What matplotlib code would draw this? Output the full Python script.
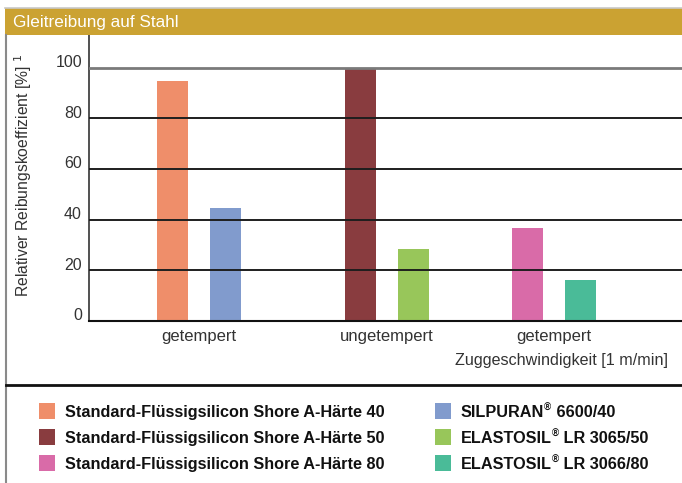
import matplotlib
matplotlib.use("Agg")
import matplotlib.pyplot as plt
from matplotlib.patches import Rectangle
from matplotlib.lines import Line2D

plt.rcParams["font.family"] = ["Liberation Sans", "DejaVu Sans"]

# data
groups = ["getempert", "ungetempert", "getempert"]
series = [
    "Standard-Flüssigsilicon Shore A-Härte 40",
    "SILPURAN® 6600/40",
    "Standard-Flüssigsilicon Shore A-Härte 50",
    "ELASTOSIL® LR 3065/50",
    "Standard-Flüssigsilicon Shore A-Härte 80",
    "ELASTOSIL® LR 3066/80",
]
values = [94.8, 44.7, 100.0, 28.4, 36.8, 16.2]
colors = ["#EF8E6A", "#819BCD", "#893C3F", "#98C65A", "#D96BA8", "#4ABB98"]
bar_group = [0, 0, 1, 1, 2, 2]
yticks = [0, 20, 40, 60, 80, 100]

W, H = 682, 483
fig = plt.figure(figsize=(W / 100, H / 100), dpi=100)
renderer = fig.canvas.get_renderer()


def fx(px):
    return px / W


def fy(py):
    return 1 - py / H


# frame: header, left border, separator
fig.patches.append(Rectangle((fx(5), fy(35)), 1 - fx(5), 27 / H, transform=fig.transFigure,
                             facecolor="#CBA232", edgecolor="none"))
fig.lines.append(Line2D([fx(5), 1], [fy(8), fy(8)], transform=fig.transFigure,
                        color="#c8c8c8", lw=1.2))
fig.lines.append(Line2D([fx(6), fx(6)], [fy(35), 0], transform=fig.transFigure,
                        color="#8a8a8a", lw=1.5))
fig.lines.append(Line2D([fx(6), 1], [fy(385), fy(385)], transform=fig.transFigure,
                        color="#111111", lw=2))
fig.text(fx(13), fy(22), "Gleitreibung auf Stahl", color="white", fontsize=12.3,
         va="center", ha="left")

# axes: x in pixel-like units from the left spine
ax = fig.add_axes([fx(89), fy(321), 1 - fx(89), (321 - 35) / H])
group_x = [110, 298, 465]
offset = 26.5
width = 31
xs = [group_x[g] + (-offset if i % 2 == 0 else offset) for i, g in enumerate(bar_group)]
ax.bar(xs, values, width=width, color=colors, zorder=2)
ax.set_xlim(0, W - 89)
ax.set_ylim(0, 100 * (321 - 35) / (321 - 67.7))

for t in yticks[1:-1]:
    ax.axhline(t, color="#1e1e1e", lw=1.4, zorder=3)
ax.axhline(100, color="#7a7a7a", lw=2, zorder=3)

for s in ["top", "right"]:
    ax.spines[s].set_visible(False)
ax.spines["left"].set_color("#333333")
ax.spines["left"].set_linewidth(1.2)
ax.spines["bottom"].set_color("#111111")
ax.spines["bottom"].set_linewidth(1.5)
ax.spines["bottom"].set_zorder(4)

ax.set_yticks([])
ax.set_xticks([])
for t in yticks:
    ax.text(-7, t + 0.3, str(t), ha="right", va="baseline", fontsize=11.5,
            color="#333333", clip_on=False)
for g, lab in zip(group_x, groups):
    ax.text(g, -3.2, lab, ha="center", va="top", fontsize=12, color="#333333",
            clip_on=False)
fig.text(fx(668), fy(361), "Zuggeschwindigkeit [1 m/min]", ha="right", va="center",
         fontsize=11.6, color="#333333")
fig.text(fx(23), fy(297), "Relativer Reibungskoeffizient [%] $^{1}$", rotation=90,
         ha="center", va="bottom", fontsize=11.3, color="#333333")

# legend
legend_order = [0, 2, 4, 1, 3, 5]
col_x = [39, 435]
row_y = [411, 437, 463]
for k, idx in enumerate(legend_order):
    cx = col_x[k // 3]
    ry = row_y[k % 3]
    fig.patches.append(Rectangle((fx(cx), fy(ry + 8)), 16 / W, 16 / H,
                                 transform=fig.transFigure, facecolor=colors[idx],
                                 edgecolor="none"))
    parts = series[idx].split("®")
    tx = fig.text(fx(cx + 26), fy(ry + 1.5), parts[0], ha="left", va="center",
                  fontsize=11.7, fontweight="bold", color="#111111")
    if len(parts) > 1:
        x_end = tx.get_window_extent(renderer).x1 / W
        reg = fig.text(x_end, fy(ry - 3), "®", ha="left", va="center", fontsize=7,
                       fontweight="bold", color="#111111")
        x_end = reg.get_window_extent(renderer).x1 / W
        fig.text(x_end, fy(ry + 1.5), parts[1], ha="left", va="center", fontsize=11.7,
                 fontweight="bold", color="#111111")

fig.savefig("out.png", dpi=100)
